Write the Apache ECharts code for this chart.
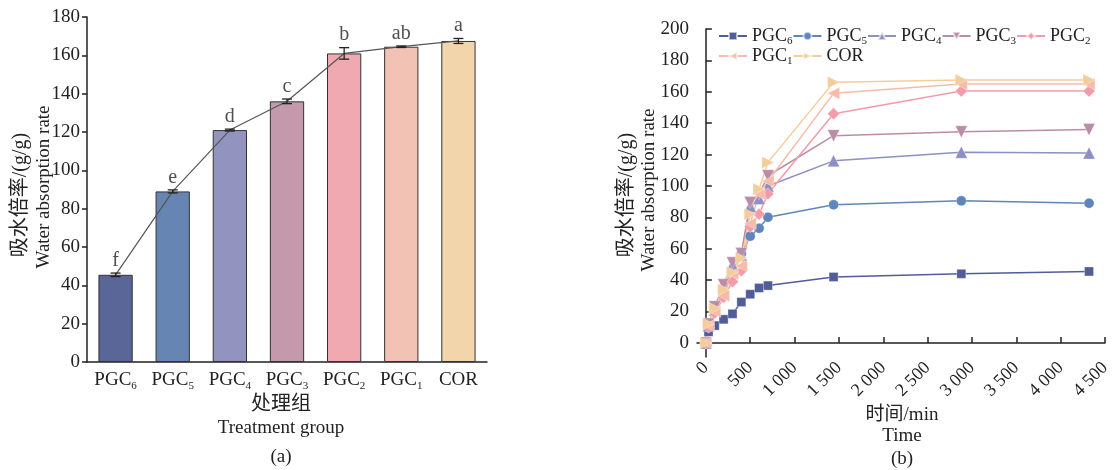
<!DOCTYPE html>
<html><head><meta charset="utf-8">
<script src="https://cdn.jsdelivr.net/npm/echarts@6/dist/echarts.min.js"></script>
<style>html,body{margin:0;padding:0;background:#fff}#c{width:1115px;height:470px}</style>
</head><body><div id="c"></div>
<script>
// ---- data (a) ----
const categories = ['PGC6', 'PGC5', 'PGC4', 'PGC3', 'PGC2', 'PGC1', 'COR'];
const means = [45.5, 89.0, 121.0, 136.0, 161.0, 164.5, 167.5];
const errors = [0.9, 0.8, 0.5, 1.2, 3.0, 0.4, 1.3];
const letters = ['f', 'e', 'd', 'c', 'b', 'ab', 'a'];
const yTicksA = [0, 20, 40, 60, 80, 100, 120, 140, 160, 180];
// ---- data (b) ----
const times = [0, 30, 100, 200, 300, 400, 500, 600, 700, 1440, 2880, 4320];
const sPGC6 = [0, 7, 11, 15, 18.5, 26, 31, 35, 36.5, 42, 44, 45.5];
const sPGC5 = [0, 10, 20, 31, 46, 57, 68, 73, 80, 88, 90.5, 89];
const sPGC4 = [0, 11, 21, 32, 50, 56, 87, 92, 100, 116, 121.5, 121];
const sPGC3 = [0, 12, 23, 37, 51, 57, 89.5, 95, 106.5, 132, 134.5, 136];
const sPGC2 = [0, 10, 19, 29, 39, 46, 74, 82, 95, 146, 160.5, 160.5];
const sPGC1 = [0, 11, 20, 30, 44, 49, 76, 95, 103, 159, 165, 165];
const sCOR = [0, 12, 22, 34, 45, 54, 82, 98, 115, 166, 167.5, 167.5];
const xTicksB = [0, 500, 1000, 1500, 2000, 2500, 3000, 3500, 4000, 4500];
const yTicksB = [0, 20, 40, 60, 80, 100, 120, 140, 160, 180, 200];

const barColors = ['#5a6598', '#6685b2', '#9294bf', '#c499ac', '#f0a9b1', '#f2c3b4', '#f2d5ab'];
const lineColors = ['#515d98', '#5e86bb', '#8c90c2', '#bb8ca7', '#f39ba9', '#f6bca9', '#f5cd9b'];
const lineSeries = [
  ['PGC6', sPGC6, 'rect', 0],
  ['PGC5', sPGC5, 'circle', 0],
  ['PGC4', sPGC4, 'triangle', 0],
  ['PGC3', sPGC3, 'triangle', 180],
  ['PGC2', sPGC2, 'diamond', 0],
  ['PGC1', sPGC1, 'triangle', 90],
  ['COR', sCOR, 'triangle', -90]
];

const FONT = '"Liberation Serif", "Noto Sans CJK SC", serif';
const TXT = '#222';
const subRich = (fs) => ({
  a: {fontFamily: FONT, fontSize: fs, color: TXT, lineHeight: fs + 4},
  s: {fontFamily: FONT, fontSize: Math.round(fs * 0.6), color: TXT, verticalAlign: 'bottom', lineHeight: 4}
});
const subFmt = (name) => {
  const m = /^PGC(\d)$/.exec(name);
  return m ? '{a|PGC}{s|' + m[1] + '}' : '{a|' + name + '}';
};
const thou = (v) => v >= 1000 ? Math.floor(v / 1000) + ' ' + String(v % 1000).padStart(3, '0') : String(v);

const chart = echarts.init(document.getElementById('c'), null, {renderer: 'canvas'});
const axisLine = {show: true, lineStyle: {color: '#222', width: 1.5}};

chart.setOption({
  animation: false,
  backgroundColor: '#fff',
  grid: [
    {left: 87, right: 628, top: 17, bottom: 108},
    {left: 697, right: 10, top: 29, bottom: 113}
  ],
  legend: {
    top: 27, left: 718, width: 397, padding: 0,
    itemWidth: 28, itemHeight: 10, itemGap: 0,
    data: lineSeries.map(s => s[0]),
    formatter: subFmt,
    textStyle: {rich: subRich(18)}
  },
  xAxis: [
    {gridIndex: 0, type: 'category', data: categories,
     axisLine: axisLine, axisTick: {show: false},
     axisLabel: {interval: 0, margin: 7, formatter: subFmt, rich: subRich(19)}},
    {gridIndex: 1, type: 'value', min: -100, max: 4500,
     axisLine: axisLine, splitLine: {show: false},
     axisTick: {inside: true, length: 6, customValues: xTicksB, lineStyle: {color: '#222', width: 1.5}},
     axisLabel: {customValues: xTicksB, rotate: 45, margin: 8, formatter: thou,
                 fontFamily: FONT, fontSize: 18, color: TXT}}
  ],
  yAxis: [
    {gridIndex: 0, type: 'value', min: 0, max: 180, interval: 20,
     axisLine: axisLine, splitLine: {show: false},
     axisTick: {show: true, inside: false, length: 5, lineStyle: {color: '#222', width: 1.5}},
     axisLabel: {margin: 7, fontFamily: FONT, fontSize: 19, color: TXT}},
    {gridIndex: 1, type: 'value', min: -9, max: 200,
     axisLine: axisLine, splitLine: {show: false},
     axisTick: {inside: true, length: 6, customValues: yTicksB, lineStyle: {color: '#222', width: 1.5}},
     axisLabel: {customValues: yTicksB, margin: 8, fontFamily: FONT, fontSize: 19, color: TXT}}
  ],
  series: [
    {type: 'bar', xAxisIndex: 0, yAxisIndex: 0, barWidth: '60%',
     data: means.map((v, i) => ({value: v, itemStyle: {color: barColors[i]}})),
     itemStyle: {borderColor: '#333', borderWidth: 1}},
    {type: 'line', xAxisIndex: 0, yAxisIndex: 0, data: means, symbol: 'none',
     lineStyle: {color: '#555', width: 1.2}, z: 5},
    {type: 'custom', xAxisIndex: 0, yAxisIndex: 0, z: 6,
     data: means.map((v, i) => [i, v - errors[i], v + errors[i]]),
     renderItem: (params, api) => {
       const lo = api.coord([api.value(0), api.value(1)]);
       const hi = api.coord([api.value(0), api.value(2)]);
       const w = 5;
       const st = {stroke: '#222', lineWidth: 1.3};
       return {type: 'group', children: [
         {type: 'line', shape: {x1: lo[0], y1: lo[1], x2: hi[0], y2: hi[1]}, style: st},
         {type: 'line', shape: {x1: lo[0] - w, y1: lo[1], x2: lo[0] + w, y2: lo[1]}, style: st},
         {type: 'line', shape: {x1: hi[0] - w, y1: hi[1], x2: hi[0] + w, y2: hi[1]}, style: st}
       ]};
     }},
    {type: 'scatter', xAxisIndex: 0, yAxisIndex: 0, symbolSize: 1, z: 7,
     itemStyle: {color: 'rgba(0,0,0,0)'},
     data: means.map((v, i) => v + errors[i]),
     label: {show: true, position: 'top', distance: 2, formatter: (p) => letters[p.dataIndex],
             fontFamily: FONT, fontSize: 20, color: TXT}},
    ...lineSeries.map((s, k) => ({
      name: s[0], type: 'line', xAxisIndex: 1, yAxisIndex: 1,
      data: times.map((t, i) => [t, s[1][i]]),
      symbol: s[2], symbolRotate: s[3], symbolSize: s[2] === 'rect' ? 9 : (s[2] === 'circle' ? 10 : 12),
      color: lineColors[k],
      lineStyle: {color: lineColors[k], width: 1.5},
      itemStyle: {color: lineColors[k], borderColor: 'rgba(255,255,255,0.6)', borderWidth: 0.5}
    }))
  ],
  graphic: [
    {type: 'text', x: 21, y: 195, rotation: Math.PI / 2,
     style: {text: '吸水倍率/(g/g)', fontFamily: FONT, fontSize: 20, fill: TXT, align: 'center', verticalAlign: 'middle'}},
    {type: 'text', x: 44, y: 187, rotation: Math.PI / 2,
     style: {text: 'Water absorption rate', fontFamily: FONT, fontSize: 19, fill: TXT, align: 'center', verticalAlign: 'middle'}},
    {type: 'text', x: 281, y: 405,
     style: {text: '处理组', fontFamily: FONT, fontSize: 20, fill: TXT, align: 'center', verticalAlign: 'middle'}},
    {type: 'text', x: 281, y: 428,
     style: {text: 'Treatment group', fontFamily: FONT, fontSize: 19, fill: TXT, align: 'center', verticalAlign: 'middle'}},
    {type: 'text', x: 281, y: 457,
     style: {text: '(a)', fontFamily: FONT, fontSize: 19, fill: TXT, align: 'center', verticalAlign: 'middle'}},
    {type: 'text', x: 627, y: 195, rotation: Math.PI / 2,
     style: {text: '吸水倍率/(g/g)', fontFamily: FONT, fontSize: 20, fill: TXT, align: 'center', verticalAlign: 'middle'}},
    {type: 'text', x: 649, y: 190, rotation: Math.PI / 2,
     style: {text: 'Water absorption rate', fontFamily: FONT, fontSize: 19, fill: TXT, align: 'center', verticalAlign: 'middle'}},
    {type: 'text', x: 902, y: 415,
     style: {text: '时间/min', fontFamily: FONT, fontSize: 19, fill: TXT, align: 'center', verticalAlign: 'middle'}},
    {type: 'text', x: 902, y: 436,
     style: {text: 'Time', fontFamily: FONT, fontSize: 19, fill: TXT, align: 'center', verticalAlign: 'middle'}},
    {type: 'text', x: 902, y: 459,
     style: {text: '(b)', fontFamily: FONT, fontSize: 19, fill: TXT, align: 'center', verticalAlign: 'middle'}}
  ]
});
</script></body></html>
